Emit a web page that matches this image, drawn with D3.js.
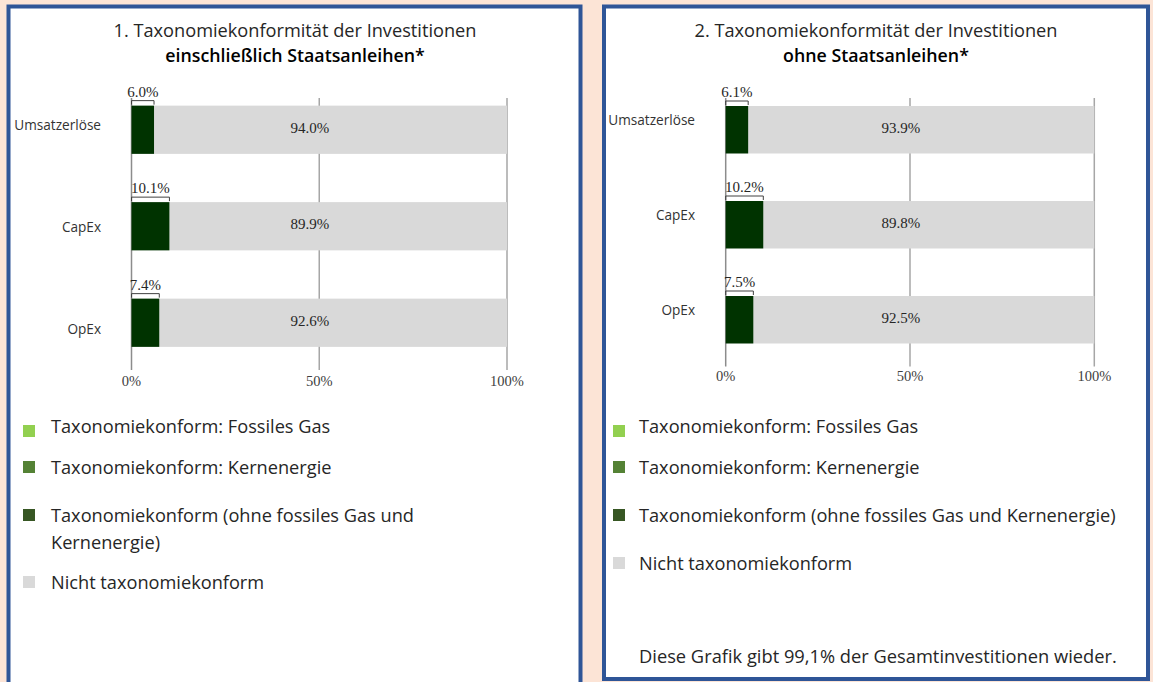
<!DOCTYPE html>
<html><head><meta charset="utf-8">
<script src="https://cdn.jsdelivr.net/npm/d3@7"></script>
<style>
html,body{margin:0;padding:0;background:#fce4d6;}
svg{display:block;}
</style></head>
<body>
<svg id="c" width="1153" height="682"></svg>
<script>
const categories = ["Umsatzerlöse", "CapEx", "OpEx"];
const alignedIncl = [6.0, 10.1, 7.4];
const notAlignedIncl = [94.0, 89.9, 92.6];
const alignedExcl = [6.1, 10.2, 7.5];
const notAlignedExcl = [93.9, 89.8, 92.5];
const xTicks = [0, 50, 100];
const titleLine1 = ["1. Taxonomiekonformität der Investitionen", "2. Taxonomiekonformität der Investitionen"];
const titleLine2 = ["einschließlich Staatsanleihen*", "ohne Staatsanleihen*"];
const legendLabels = ["Taxonomiekonform: Fossiles Gas", "Taxonomiekonform: Kernenergie",
  "Taxonomiekonform (ohne fossiles Gas und Kernenergie)", "Nicht taxonomiekonform"];
const footnote = "Diese Grafik gibt 99,1% der Gesamtinvestitionen wieder.";

const legendColors = ["#92d050", "#548235", "#375623", "#d9d9d9"];
const darkBar = "#003300", grayBar = "#d9d9d9";
const sans = "'Open Sans', 'Noto Sans', sans-serif";
const serif = "'Liberation Serif', 'Times New Roman', serif";

const svg = d3.select("#c");
svg.append("rect").attr("width", 1153).attr("height", 682).attr("fill", "#fce4d6");

// panels
svg.append("rect").attr("x", 8.5).attr("y", 6.5).attr("width", 572).attr("height", 690)
  .attr("fill", "#fff").attr("stroke", "#2f5597").attr("stroke-width", 4);
svg.append("rect").attr("x", 604).attr("y", 6.5).attr("width", 544).attr("height", 672.5)
  .attr("fill", "#fff").attr("stroke", "#2f5597").attr("stroke-width", 4);

const panels = [
  {aligned: alignedIncl, notAligned: notAlignedIncl, cx: 295, xr: [131.5, 507], br: [81.5, 371],
   gy: [98, 370], ty: 381, lr: [124, 328], lx: 101, title: 0,
   legX: 23, legTx: 51, legY: [426, 467, 515, 582], wrap: true},
  {aligned: alignedExcl, notAligned: notAlignedExcl, cx: 876, xr: [725.7, 1094.3], br: [82.25, 367.25],
   gy: [98, 366.5], ty: 376, lr: [119, 309], lx: 695, title: 1,
   legX: 613, legTx: 639, legY: [426, 467, 515, 563], wrap: false}
];

panels.forEach(p => {
  const g = svg.append("g");
  g.append("text").attr("x", p.cx).attr("y", 30).attr("text-anchor", "middle").attr("dominant-baseline", "central")
    .attr("font-family", sans).attr("font-size", 18.2).attr("fill", "#262626").text(titleLine1[p.title]);
  g.append("text").attr("x", p.cx).attr("y", 55).attr("text-anchor", "middle").attr("dominant-baseline", "central")
    .attr("font-family", sans).attr("font-size", 17.8).attr("font-weight", 600).attr("fill", "#000").text(titleLine2[p.title]);

  const x = d3.scaleLinear().domain([0, 100]).range(p.xr);
  const y = d3.scaleBand().domain(categories).range(p.br).paddingInner(0.5).paddingOuter(0.25);
  const yl = d3.scalePoint().domain(categories).range(p.lr);

  // gridlines
  g.selectAll(".grid").data(xTicks).join("line")
    .attr("x1", d => x(d)).attr("x2", d => x(d)).attr("y1", p.gy[0]).attr("y2", p.gy[1])
    .attr("stroke", d => d === 0 ? "#8c8c8c" : "#a6a6a6").attr("stroke-width", 1.5);
  g.selectAll(".tick").data(xTicks).join("text")
    .attr("x", d => x(d)).attr("y", p.ty).attr("text-anchor", "middle").attr("dominant-baseline", "central")
    .attr("font-family", serif).attr("font-size", 14.5).attr("fill", "#404040").text(d => d + "%");

  // bars
  g.selectAll(".gb").data(categories).join("rect")
    .attr("x", (d, i) => x(p.aligned[i])).attr("y", d => y(d))
    .attr("width", (d, i) => x(p.aligned[i] + p.notAligned[i]) - x(p.aligned[i]))
    .attr("height", y.bandwidth()).attr("fill", grayBar);
  g.selectAll(".db").data(categories).join("rect")
    .attr("x", x(0)).attr("y", d => y(d))
    .attr("width", (d, i) => x(p.aligned[i]) - x(0))
    .attr("height", y.bandwidth()).attr("fill", darkBar);

  // brackets + labels above dark bars
  categories.forEach((c, i) => {
    const x0 = x(0), x1 = x(p.aligned[i]), yt = y(c);
    g.append("path").attr("d", `M${x0},${yt - 1}V${yt - 5}H${x1}V${yt - 1}`)
      .attr("fill", "none").attr("stroke", "#404040").attr("stroke-width", 1);
    g.append("text").attr("x", (x0 + x1) / 2).attr("y", yt - 14).attr("text-anchor", "middle")
      .attr("dominant-baseline", "central").attr("font-family", serif).attr("font-size", 15)
      .attr("fill", "#262626").text(p.aligned[i].toFixed(1) + "%");
    g.append("text").attr("x", x(47.5)).attr("y", yt + y.bandwidth() / 2 - 2).attr("text-anchor", "middle")
      .attr("dominant-baseline", "central").attr("font-family", serif).attr("font-size", 15)
      .attr("fill", "#262626").text(p.notAligned[i].toFixed(1) + "%");
  });

  // category labels
  g.selectAll(".cl").data(categories).join("text")
    .attr("x", p.lx).attr("y", d => yl(d)).attr("text-anchor", "end").attr("dominant-baseline", "central")
    .attr("font-family", sans).attr("font-size", 13.6).attr("fill", "#333").text(d => d);

  // legend
  legendLabels.forEach((lab, i) => {
    const cy = p.legY[i];
    g.append("rect").attr("x", p.legX).attr("y", cy - 6 + (i === 0 ? 5 : 0)).attr("width", 12).attr("height", 12)
      .attr("fill", legendColors[i]);
    const t = g.append("text").attr("x", p.legTx).attr("y", cy).attr("dominant-baseline", "central")
      .attr("font-family", sans).attr("font-size", 18.2).attr("fill", "#262626");
    if (p.wrap && i === 2) {
      t.append("tspan").attr("x", p.legTx).attr("y", cy).text("Taxonomiekonform (ohne fossiles Gas und");
      t.append("tspan").attr("x", p.legTx).attr("y", cy + 27).text("Kernenergie)");
    } else {
      t.text(lab);
    }
  });
});

svg.append("text").attr("x", 639).attr("y", 655).attr("dominant-baseline", "central")
  .attr("font-family", sans).attr("font-size", 18.3).attr("fill", "#262626").text(footnote);
</script>
</body></html>
